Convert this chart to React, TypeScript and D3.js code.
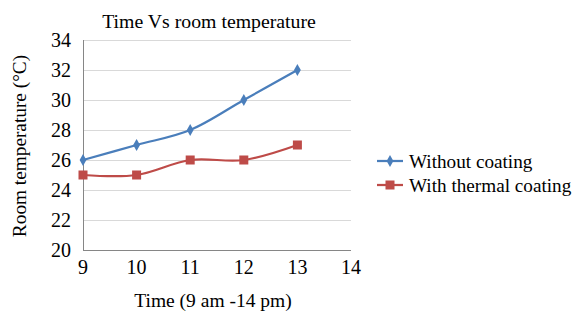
import React, { useEffect, useRef } from 'react';
import * as d3 from 'd3';

const hours = [9, 10, 11, 12, 13];
const withoutCoating = [26, 27, 28, 30, 32];
const withCoating = [25, 25, 26, 26, 27];
const xTicks = [9, 10, 11, 12, 13, 14];
const yTicks = [20, 22, 24, 26, 28, 30, 32, 34];
const seriesNames = ['Without coating', 'With thermal coating'];

export default function App() {
  const svgRef = useRef<SVGSVGElement>(null);

  useEffect(() => {
    if (!svgRef.current) return;
    const svg = d3.select(svgRef.current);
    svg.selectAll('*').remove();

    const width = 573;
    const height = 311;
    const font = '"Liberation Serif", "Times New Roman", serif';

    const x = d3.scaleLinear().domain([9, 14]).range([83, 351]);
    const y = d3.scaleLinear().domain([20, 34]).range([250, 40]);

    svg.append('rect').attr('width', width).attr('height', height).attr('fill', '#fff');

    // gridlines
    svg.selectAll('.grid')
      .data(yTicks.slice(1))
      .enter()
      .append('line')
      .attr('x1', x(9))
      .attr('x2', x(14))
      .attr('y1', d => y(d) + 0.5)
      .attr('y2', d => y(d) + 0.5)
      .attr('stroke', '#d9d9d9')
      .attr('stroke-width', 1);

    // axes
    svg.append('line')
      .attr('x1', x(9) + 0.5).attr('x2', x(9) + 0.5)
      .attr('y1', y(34)).attr('y2', y(20))
      .attr('stroke', '#868686');
    svg.append('line')
      .attr('x1', x(9)).attr('x2', x(14))
      .attr('y1', y(20) + 0.5).attr('y2', y(20) + 0.5)
      .attr('stroke', '#868686');

    // y tick labels
    svg.selectAll('.ytick')
      .data(yTicks)
      .enter()
      .append('text')
      .attr('x', 71)
      .attr('y', d => y(d) + 6.5)
      .attr('text-anchor', 'end')
      .attr('font-family', font)
      .attr('font-size', 20)
      .attr('fill', '#000')
      .text(d => d);

    // x tick labels
    svg.selectAll('.xtick')
      .data(xTicks)
      .enter()
      .append('text')
      .attr('x', d => x(d))
      .attr('y', 274)
      .attr('text-anchor', 'middle')
      .attr('font-family', font)
      .attr('font-size', 20)
      .attr('fill', '#000')
      .text(d => d);

    // titles
    svg.append('text')
      .attr('x', 209).attr('y', 28)
      .attr('text-anchor', 'middle')
      .attr('font-family', font).attr('font-size', 19.8)
      .text('Time Vs room temperature');

    svg.append('text')
      .attr('x', 213).attr('y', 307)
      .attr('text-anchor', 'middle')
      .attr('font-family', font).attr('font-size', 19.5)
      .text('Time (9 am -14 pm)');

    svg.append('text')
      .attr('transform', 'translate(26,146) rotate(-90)')
      .attr('text-anchor', 'middle')
      .attr('font-family', font).attr('font-size', 19.3)
      .text('Room temperature (°C)');

    const line = d3.line<number>()
      .x((_, i) => x(hours[i]))
      .y(d => y(d))
      .curve(d3.curveCatmullRom.alpha(0.5));

    const colors = ['#4a7ebb', '#be4b48'];
    const series = [withoutCoating, withCoating];

    series.forEach((vals, si) => {
      svg.append('path')
        .attr('d', line(vals))
        .attr('fill', 'none')
        .attr('stroke', colors[si])
        .attr('stroke-width', 2.25);
    });

    // markers
    const diamond = d3.symbol().type(d3.symbolDiamond).size(40);
    svg.selectAll('.m0')
      .data(withoutCoating)
      .enter()
      .append('path')
      .attr('d', diamond() as string)
      .attr('transform', (d, i) => `translate(${x(hours[i])},${y(d)})`)
      .attr('fill', colors[0]);

    svg.selectAll('.m1')
      .data(withCoating)
      .enter()
      .append('rect')
      .attr('x', (_, i) => x(hours[i]) - 4.5)
      .attr('y', d => y(d) - 4.5)
      .attr('width', 9)
      .attr('height', 9)
      .attr('fill', colors[1]);

    // legend
    seriesNames.forEach((name, i) => {
      const ly = 161 + i * 24;
      svg.append('line')
        .attr('x1', 377).attr('x2', 403)
        .attr('y1', ly).attr('y2', ly)
        .attr('stroke', colors[i]).attr('stroke-width', 2.25);
      if (i === 0) {
        svg.append('path')
          .attr('d', diamond() as string)
          .attr('transform', `translate(390,${ly})`)
          .attr('fill', colors[i]);
      } else {
        svg.append('rect')
          .attr('x', 385.5).attr('y', ly - 4.5)
          .attr('width', 9).attr('height', 9)
          .attr('fill', colors[i]);
      }
      svg.append('text')
        .attr('x', 409).attr('y', ly + 6.5)
        .attr('font-family', font).attr('font-size', 19.2)
        .text(name);
    });
  }, []);

  return (
    <div style={{ position: 'absolute', left: 0, top: 0 }}>
      <svg ref={svgRef} width={573} height={311} viewBox="0 0 573 311" style={{ display: 'block' }} />
    </div>
  );
}
